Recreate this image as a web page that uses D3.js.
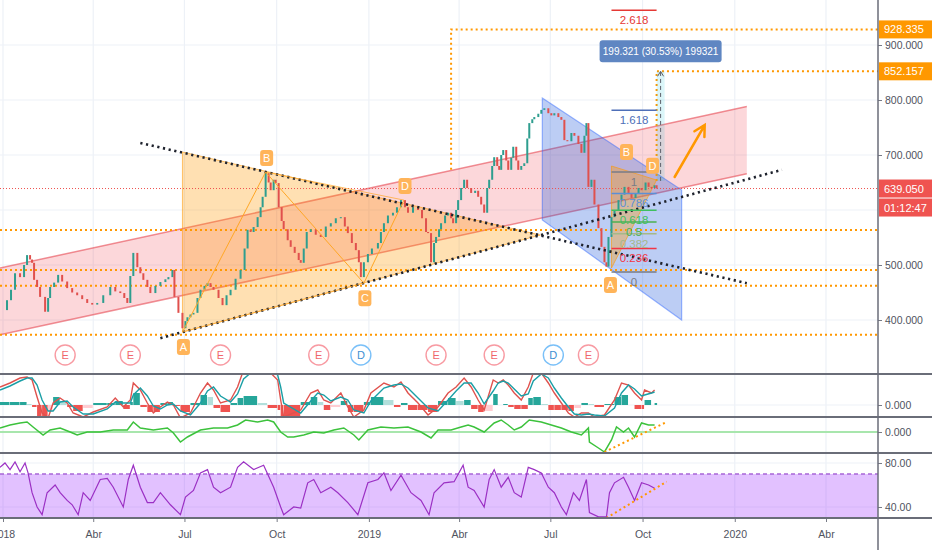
<!DOCTYPE html>
<html>
<head>
<meta charset="utf-8">
<script src="https://cdn.jsdelivr.net/npm/d3@7"></script>
<style>
  body { margin: 0; background: #fff; }
  svg { display: block; font-family: "Liberation Sans", Arial, sans-serif; }
</style>
</head>
<body>
<div id="chart"></div>
<script>
// ---- values (days counted from 2018-01-01) ----
const timeTickDates = ['2018-01-01', '2018-04-01', '2018-07-01', '2018-10-01', '2019-01-01',
  '2019-04-01', '2019-07-01', '2019-10-01', '2020-01-01', '2020-04-01'];
const timeTickLabels = ['2018', 'Abr', 'Jul', 'Oct', '2019', 'Abr', 'Jul', 'Oct', '2020', 'Abr'];
const priceTicks = [400, 500, 600, 700, 800, 900];
const priceTickLabels = [400, 500, 700, 800, 900]; // 600 sits under the countdown tag

const priceDays = [
  0, 4, 8, 12, 17, 21, 24, 27, 29, 31, 34, 37, 42, 45, 47, 51, 55, 59, 64, 69,
  74, 79, 84, 89, 94, 100, 107, 112, 117, 121, 124, 127, 130, 134, 137, 140, 144, 147, 152, 157,
  162, 165, 169, 171, 175, 179, 182, 184, 187, 190, 194, 197, 201, 204, 207, 210, 215, 219, 223, 227,
  232, 237, 241, 244, 247, 250, 254, 257, 259, 262, 265, 267, 270, 272, 275, 278, 280, 284, 287, 291,
  295, 297, 300, 303, 307, 312, 317, 322, 327, 332, 337, 341, 344, 348, 352, 355, 357, 360, 364, 368,
  374, 377, 380, 384, 389, 393, 397, 401, 404, 409, 414, 418, 422, 424, 427, 430, 432, 435, 437, 441,
  444, 447, 449, 452, 454, 457, 460, 463, 467, 471, 474, 477, 480, 483, 485, 488, 490, 493, 495, 497,
  499, 502, 504, 507, 509, 512, 514, 517, 520, 523, 525, 528, 530, 534, 537, 540, 544, 547, 550, 554,
  557, 560, 563, 567, 570, 574, 577, 580, 582, 584, 587, 590, 594, 597, 600, 602, 604, 607, 610, 614,
  617, 620, 624, 627, 631, 634, 637, 641, 644, 647, 650, 652
];
const priceClose = [
  418, 436, 455, 485, 478, 500, 518, 510, 504, 473, 460, 442, 415, 440, 460, 468, 482, 470, 458, 450,
  445, 438, 431, 428, 431, 445, 460, 452, 449, 440, 431, 480, 522, 496, 485, 473, 460, 449, 462, 469,
  474, 478, 491, 442, 413, 385, 398, 405, 410, 413, 440, 455, 462, 467, 460, 455, 440, 427, 445, 455,
  475, 491, 530, 564, 560, 569, 587, 605, 624, 667, 650, 636, 655, 649, 605, 580, 565, 545, 533, 522,
  509, 504, 530, 560, 565, 555, 551, 570, 576, 585, 587, 570, 558, 540, 527, 505, 478, 505, 520, 530,
  540, 560, 576, 590, 595, 605, 618, 605, 595, 605, 600, 585, 560, 558, 505, 540, 551, 565, 576, 590,
  595, 585, 576, 600, 618, 640, 655, 640, 631, 635, 624, 610, 595, 640, 655, 680, 696, 680, 673, 700,
  709, 690, 673, 695, 715, 690, 673, 680, 685, 730, 758, 765, 769, 775, 782, 785, 776, 772, 776, 769,
  764, 727, 725, 740, 735, 720, 704, 735, 758, 642, 655, 610, 567, 533, 505, 497, 551, 587, 600, 618,
  628, 642, 630, 622, 630, 640, 636, 650, 642, 640, 645, 639.05
];

const levelLines = [563.6, 491.0, 462.5, 373.0];
const rayLevels = [928.335, 852.157];
const rayStartDays = [447, 652];
const rayEndPrices = [673, 652.836];
const lastPrice = 639.05;
const countdown = '01:12:47';

const channelLower = [[-3, 373], [742, 666]];
const channelUpper = [[-3, 494.5], [742, 788]];
const triangleArea = [[179, 705.5], [179, 378], [536, 554.5]];
const trendDown = [[137, 722], [742, 467]];
const trendUp = [[157, 367], [777, 673]];
const blueChannel = [[538, 803.6], [677, 636.4], [677, 400], [538, 581.8]];

const patternNames = ['A', 'B', 'C', 'D'];
const patternBig = [[179, 378], [262, 669], [360, 467], [400, 618]];
const patternSmallNames = ['A', 'B', 'D'];
const patternSmall = [[604, 491], [620, 680], [646, 655]];
const smallArea = [[607, 680], [652, 654.5], [607, 494.5]];

const fibLevels = [0, 0.236, 0.382, 0.5, 0.618, 0.786, 1, 1.618, 2.618];
const fibLabels = ['0', '0.236', '0.382', '0.5', '0.618', '0.786', '1', '1.618', '2.618'];
const fibColors = ['#787b86', '#f23645', '#a5b88a', '#4caf50', '#3fbf5f', '#5b8fd6', '#787b86', '#4e6fb8', '#e53935'];
const fibLow = 487.3, fibHigh = 669.1;
const fibDays = [607, 652];

const measureDays = [652, 660];
const measurePrices = [652.836, 852.157];
const measureText = '199.321 (30.53%) 199321';

const arrowPath = [[670, 660], [700, 754.5]];

const eventDays = [62, 127, 217, 315, 357, 432, 490, 549, 584];
const eventTypes = ['E', 'E', 'E', 'E', 'D', 'E', 'E', 'D', 'E'];

const macdDays = [
  -3, 7, 17, 24, 29, 34, 39, 45, 50, 57, 64, 70, 80, 90, 104, 112, 120, 127, 130, 137,
  144, 150, 157, 164, 170, 177, 187, 197, 204, 210, 217, 227, 234, 240, 254, 264, 274, 277, 280, 297,
  307, 314, 320, 327, 337, 344, 350, 360, 367, 380, 390, 397, 404, 414, 424, 434, 444, 452, 460, 467,
  474, 480, 489, 494, 499, 504, 510, 517, 524, 529, 537, 544, 550, 557, 564, 570, 577, 584, 590, 600,
  610, 617, 624, 630, 637, 640, 647, 650
];
const macdLine = [
  18, 22, 27, 28, 25, 8, -8, -13, 2, 7, 2, -8, -12, -7, -2, 7, -2, 5, 22, 15,
  2, -8, -2, 3, 0, -13, -8, 12, 22, 15, 2, 5, 18, 35, 40, 35, 25, 5, -12, -5,
  12, 15, 5, 2, 12, -2, -12, -5, 12, 22, 18, 23, 12, 2, -10, -2, 12, 18, 27, 18,
  5, -5, 25, 22, 25, 20, 12, 5, 18, 32, 32, 22, 12, 2, -8, -12, -8, -8, -12, -10,
  5, 22, 20, 12, 5, 15, 12, 15
];
const signalLine = [
  15, 19, 24, 27, 27, 20, 5, -6, -6, 3, 4, -2, -9, -9, -4, 3, 2, 2, 10, 17,
  9, -1, -4, 0, 1, -6, -10, 2, 14, 18, 9, 3, 11, 26, 38, 38, 30, 18, 2, -8,
  4, 12, 10, 4, 8, 5, -5, -8, 4, 17, 20, 21, 17, 7, -3, -6, 5, 14, 22, 22,
  12, 1, 14, 22, 24, 22, 16, 9, 11, 24, 31, 27, 17, 7, -2, -9, -10, -9, -10, -11,
  -3, 12, 20, 16, 9, 10, 12, 13
];

const oscDays = [
  -3, 7, 17, 24, 30, 40, 47, 57, 67, 74, 84, 97, 110, 124, 130, 137, 150, 164, 170, 177,
  184, 197, 210, 224, 234, 242, 254, 264, 270, 277, 284, 290, 300, 310, 320, 330, 340, 350, 355, 364,
  377, 390, 404, 417, 427, 434, 447, 457, 464, 470, 480, 490, 497, 504, 510, 517, 525, 537, 547, 557,
  567, 577, 584, 585, 594, 600, 607, 612, 619, 624, 630, 637, 644, 650
];
const oscLine = [
  4, 7, 9, 10, 5, -3, 2, 4, 0, -3, 0, 0, 2, 2, 10, 4, 2, 4, -1, -10,
  -5, 2, 4, 4, 7, 12, 10, 12, 10, 0, -5, -5, -3, 0, -1, 2, 4, -3, -8, 2,
  5, 4, 5, 0, -6, 2, 2, 5, 7, 5, 0, 9, 12, 7, 2, 5, 12, 10, 7, 4,
  0, -3, 4, -10, -16, -20, -8, 5, 0, 4, -5, 9, 7, 7
];

const rsiDays = [
  -3, 2, 7, 12, 17, 22, 25, 29, 34, 39, 44, 52, 57, 64, 69, 75, 80, 87, 97, 104,
  110, 120, 125, 130, 137, 144, 150, 157, 167, 177, 182, 190, 197, 204, 210, 217, 227, 234, 240, 250,
  260, 270, 277, 280, 290, 297, 304, 310, 317, 327, 334, 344, 354, 364, 374, 380, 387, 397, 407, 417,
  425, 430, 440, 450, 459, 464, 470, 480, 485, 490, 497, 504, 510, 517, 524, 530, 537, 544, 550, 557,
  562, 569, 575, 582, 585, 594, 602, 605, 610, 619, 624, 630, 637, 644, 650
];
const rsiLine = [
  76, 80, 74, 81, 72, 80, 71, 53, 40, 33, 53, 60, 53, 46, 42, 33, 53, 46, 65, 66,
  58, 40, 65, 78, 58, 44, 44, 53, 42, 33, 49, 55, 71, 74, 58, 53, 58, 76, 81, 74,
  78, 58, 40, 33, 40, 39, 62, 65, 53, 58, 53, 44, 33, 62, 65, 71, 55, 69, 53, 46,
  33, 53, 62, 63, 78, 58, 55, 40, 65, 74, 58, 67, 53, 49, 76, 74, 71, 58, 53, 40,
  33, 53, 46, 65, 35, 31, 31, 53, 62, 67, 58, 46, 62, 60, 57
];
const oscTrend = [[600, -20], [662, 10]];
const rsiTrend = [[602, 30], [662, 63]];

// ---- layout ----
const W = 932, H = 550, plotR = 878;
const panels = { price: [0, 374], macd: [374, 417], osc: [417, 453], rsi: [453, 518] };

const parse = d3.timeParse('%Y-%m-%d');
const START = parse('2018-01-01');
const tickDates = timeTickDates.map(parse);
const x = d3.scaleTime().domain([START, parse('2020-04-01')]).range([3, 826]);
const xd = (d) => x(d3.timeDay.offset(START, d));

const yP = d3.scaleLinear().domain([400, 900]).range([320, 45]);
const yM = d3.scaleLinear().domain([-12, 31]).range([417, 374]);
const yO = d3.scaleLinear().domain([-21, 15]).range([453, 417]);
const yR = d3.scaleLinear().domain([30, 89.09]).range([518, 453]);

const svg = d3.select('#chart').append('svg').attr('width', W).attr('height', H);
const defs = svg.append('defs');
Object.entries(panels).forEach(([k, [t, b]]) => {
  defs.append('clipPath').attr('id', 'clip-' + k)
    .append('rect').attr('x', 0).attr('y', t).attr('width', plotR).attr('height', b - t);
});

// grid
const grid = svg.append('g');
grid.selectAll('line.v').data(tickDates).join('line')
  .attr('x1', (d) => x(d)).attr('x2', (d) => x(d)).attr('y1', 0).attr('y2', 518)
  .attr('stroke', '#edf1f7').attr('stroke-width', 1.2);
grid.selectAll('line.h').data(priceTicks).join('line')
  .attr('x1', 0).attr('x2', plotR).attr('y1', (d) => yP(d)).attr('y2', (d) => yP(d))
  .attr('stroke', '#edf1f7').attr('stroke-width', 1.2);
[[yM, 0], [yO, 0], [yR, 80], [yR, 40]].forEach(([s, v]) => {
  grid.append('line').attr('x1', 0).attr('x2', plotR).attr('y1', s(v)).attr('y2', s(v))
    .attr('stroke', '#edf1f7').attr('stroke-width', 1.2);
});

// ---- price panel ----
const gP = svg.append('g').attr('clip-path', 'url(#clip-price)');
const pt = (p) => [xd(p[0]), yP(p[1])];
const line = d3.line();

gP.append('path')
  .attr('d', line([pt(channelLower[0]), pt(channelLower[1]), pt(channelUpper[1]), pt(channelUpper[0])]) + 'Z')
  .attr('fill', 'rgba(242,54,69,0.2)');
[channelLower, channelUpper].forEach((c) => {
  gP.append('path').attr('d', line(c.map(pt))).attr('stroke', 'rgba(230,70,80,0.6)').attr('stroke-width', 1.5).attr('fill', 'none');
});

gP.append('path').attr('d', line(triangleArea.map(pt)) + 'Z')
  .attr('fill', 'rgba(255,152,0,0.3)').attr('stroke', 'rgba(255,152,0,0.55)').attr('stroke-width', 1);

gP.append('path').attr('d', line(blueChannel.map(pt)) + 'Z')
  .attr('fill', 'rgba(33,91,220,0.3)').attr('stroke', 'rgba(41,98,255,0.45)').attr('stroke-width', 1.2);

gP.append('path').attr('d', line(smallArea.map(pt)) + 'Z')
  .attr('fill', 'rgba(255,152,0,0.35)').attr('stroke', 'rgba(255,152,0,0.6)').attr('stroke-width', 1);

// horizontal levels
gP.selectAll('line.lvl').data(levelLines).join('line')
  .attr('x1', 0).attr('x2', plotR).attr('y1', (d) => yP(d)).attr('y2', (d) => yP(d))
  .attr('stroke', '#ff9800').attr('stroke-width', 2).attr('stroke-dasharray', '2,3');
rayLevels.forEach((v, i) => {
  gP.append('path')
    .attr('d', line([[xd(rayStartDays[i]), yP(rayEndPrices[i])], [xd(rayStartDays[i]), yP(v)], [plotR, yP(v)]]))
    .attr('fill', 'none').attr('stroke', '#ff9800').attr('stroke-width', 2).attr('stroke-dasharray', '2,3');
});
gP.append('line').attr('x1', 0).attr('x2', plotR).attr('y1', yP(lastPrice)).attr('y2', yP(lastPrice))
  .attr('stroke', '#ef5350').attr('stroke-width', 1).attr('stroke-dasharray', '1,2');

// candles: open = previous close
const candles = priceClose.slice(1).map((c, i) => ({ day: priceDays[i + 1], open: priceClose[i], close: c }));
gP.append('g').selectAll('rect').data(candles).join('rect')
  .attr('x', (d) => xd(d.day) - 1)
  .attr('y', (d) => yP(Math.max(d.open, d.close)))
  .attr('width', 2)
  .attr('height', (d) => Math.max(1, Math.abs(yP(d.open) - yP(d.close))))
  .attr('fill', (d) => (d.close >= d.open ? '#2e9e8f' : '#e0504d'));

// dotted trend lines
[trendDown, trendUp].forEach((t) => {
  gP.append('path').attr('d', line(t.map(pt))).attr('fill', 'none')
    .attr('stroke', '#1e222d').attr('stroke-width', 2.6).attr('stroke-dasharray', '2.2,3.6');
});

// ABCD pattern lines
gP.append('path').attr('d', line(patternBig.map(pt))).attr('fill', 'none')
  .attr('stroke', '#ffa726').attr('stroke-width', 1);
gP.append('path').attr('d', line([pt(patternBig[0]), pt(patternBig[2])])).attr('fill', 'none')
  .attr('stroke', '#ffa726').attr('stroke-width', 1).attr('opacity', 0.7);
gP.append('path').attr('d', line([pt(patternBig[1]), pt(patternBig[3])])).attr('fill', 'none')
  .attr('stroke', '#ffa726').attr('stroke-width', 1).attr('opacity', 0.7);

// fib levels
const fibPrice = (l) => fibLow + l * (fibHigh - fibLow);
const fibG = gP.append('g');
fibLevels.forEach((l, i) => {
  const yy = yP(fibPrice(l));
  fibG.append('line').attr('x1', xd(fibDays[0])).attr('x2', xd(fibDays[1])).attr('y1', yy).attr('y2', yy)
    .attr('stroke', fibColors[i]).attr('stroke-width', 1.5);
  fibG.append('text').attr('x', (xd(fibDays[0]) + xd(fibDays[1])) / 2).attr('y', yy + 14)
    .attr('text-anchor', 'middle').attr('font-size', 11.5).attr('fill', fibColors[i]).text(fibLabels[i]);
});

// measure tool
const mx0 = xd(measureDays[0]), mx1 = xd(measureDays[1]);
const myTop = yP(measurePrices[1]), myBot = yP(measurePrices[0]);
const mcx = (mx0 + mx1) / 2;
gP.append('rect').attr('x', mx0).attr('y', myTop).attr('width', mx1 - mx0).attr('height', myBot - myTop)
  .attr('fill', 'rgba(0,188,212,0.14)');
gP.append('line').attr('x1', mcx).attr('x2', mcx).attr('y1', myBot).attr('y2', myTop)
  .attr('stroke', '#5d606b').attr('stroke-width', 1).attr('stroke-dasharray', '4,3');
gP.append('path').attr('d', `M${mcx - 3},${myTop + 5}L${mcx},${myTop}L${mcx + 3},${myTop + 5}`)
  .attr('fill', 'none').attr('stroke', '#5d606b').attr('stroke-width', 1);
gP.append('rect').attr('x', mcx - 61).attr('y', myTop - 31).attr('width', 122).attr('height', 22).attr('rx', 3)
  .attr('fill', '#5f86c2');
gP.append('text').attr('x', mcx).attr('y', myTop - 16.5).attr('text-anchor', 'middle')
  .attr('font-size', 10).attr('fill', '#fff').text(measureText);

// orange arrow
const [a0, a1] = arrowPath.map(pt);
const ang = Math.atan2(a1[1] - a0[1], a1[0] - a0[0]);
const head = (da) => [a1[0] - 12 * Math.cos(ang + da), a1[1] - 12 * Math.sin(ang + da)];
gP.append('path').attr('d', line([a0, a1]) + 'M' + head(0.5).join(',') + 'L' + a1.join(',') + 'L' + head(-0.5).join(','))
  .attr('fill', 'none').attr('stroke', '#ff9800').attr('stroke-width', 2.5).attr('stroke-linecap', 'round');

// pattern letter tags
function letterTag(g, cx, cy, txt) {
  g.append('rect').attr('x', cx - 6.5).attr('y', cy - 8).attr('width', 13).attr('height', 16).attr('rx', 3)
    .attr('fill', '#ffb459');
  g.append('text').attr('x', cx).attr('y', cy + 4).attr('text-anchor', 'middle')
    .attr('font-size', 11).attr('fill', '#fff').text(txt);
}
const below = [true, false, true, false];
patternBig.forEach((p, i) => {
  const [px, py] = pt(p);
  letterTag(gP, px + 1, below[i] ? py + 15 : py - 14, patternNames[i]);
});
const belowSmall = [true, false, false];
patternSmall.forEach((p, i) => {
  const [px, py] = pt(p);
  letterTag(gP, px + 2, belowSmall[i] ? py + 15 : py - 14, patternSmallNames[i]);
});

// earnings / dividend markers
const evY = 355;
const evG = gP.append('g').selectAll('g').data(eventDays).join('g')
  .attr('transform', (d) => `translate(${xd(d)},${evY})`);
evG.append('circle').attr('r', 10).attr('fill', '#fff')
  .attr('stroke', (d, i) => (eventTypes[i] === 'E' ? 'rgba(242,54,69,0.5)' : 'rgba(33,150,243,0.6)'))
  .attr('stroke-width', 1.4);
evG.append('text').attr('y', 4).attr('text-anchor', 'middle').attr('font-size', 11)
  .attr('fill', (d, i) => (eventTypes[i] === 'E' ? '#f0676b' : '#3d8fd1'))
  .text((d, i) => eventTypes[i]);

// ---- MACD panel ----
const gM = svg.append('g').attr('clip-path', 'url(#clip-macd)');
const hist = macdLine.map((m, i) => ({ day: macdDays[i], next: macdDays[i + 1] ?? macdDays[i] + 3, h: m - signalLine[i], prev: i ? macdLine[i - 1] - signalLine[i - 1] : 0 }));
gM.selectAll('rect').data(hist).join('rect')
  .attr('x', (d) => xd(d.day))
  .attr('width', (d) => Math.max(1, xd(d.next) - xd(d.day) - 0.5))
  .attr('y', (d) => Math.min(yM(0), yM(d.h)))
  .attr('height', (d) => Math.abs(yM(d.h) - yM(0)))
  .attr('fill', (d) => (d.h >= 0 ? (d.h >= d.prev ? '#26a69a' : '#b2dfdb') : (d.h <= d.prev ? '#ef5350' : '#ffcdd2')));
const lineM = (vals) => d3.line().x((d, i) => xd(macdDays[i])).y((d) => yM(d))(vals);
gM.append('path').attr('d', lineM(macdLine)).attr('fill', 'none').attr('stroke', '#e0524e').attr('stroke-width', 1.4);
gM.append('path').attr('d', lineM(signalLine)).attr('fill', 'none').attr('stroke', '#1a9fa6').attr('stroke-width', 1.4);

// ---- oscillator panel ----
const gO = svg.append('g').attr('clip-path', 'url(#clip-osc)');
gO.append('line').attr('x1', 0).attr('x2', plotR).attr('y1', yO(0)).attr('y2', yO(0))
  .attr('stroke', '#a8e6ad').attr('stroke-width', 2);
gO.append('path').attr('d', d3.line().x((d, i) => xd(oscDays[i])).y((d) => yO(d))(oscLine))
  .attr('fill', 'none').attr('stroke', '#3cc23c').attr('stroke-width', 1.5);
gO.append('path').attr('d', line(oscTrend.map((p) => [xd(p[0]), yO(p[1])])))
  .attr('fill', 'none').attr('stroke', '#ff9800').attr('stroke-width', 2).attr('stroke-dasharray', '2,3');

// ---- RSI panel ----
const gR = svg.append('g').attr('clip-path', 'url(#clip-rsi)');
gR.append('rect').attr('x', 0).attr('width', plotR).attr('y', yR(70)).attr('height', yR(30) - yR(70))
  .attr('fill', 'rgba(160,50,255,0.3)');
[70, 30].forEach((v) => {
  gR.append('line').attr('x1', 0).attr('x2', plotR).attr('y1', yR(v)).attr('y2', yR(v))
    .attr('stroke', '#a866d8').attr('stroke-width', 1.5).attr('stroke-dasharray', '4,3');
});
gR.append('path').attr('d', d3.line().x((d, i) => xd(rsiDays[i])).y((d) => yR(d))(rsiLine))
  .attr('fill', 'none').attr('stroke', '#9b30c4').attr('stroke-width', 1.2);
gR.append('path').attr('d', line(rsiTrend.map((p) => [xd(p[0]), yR(p[1])])))
  .attr('fill', 'none').attr('stroke', '#ff9800').attr('stroke-width', 2).attr('stroke-dasharray', '2,3');

// ---- axes ----
function styleAxis(g) {
  g.select('.domain').remove();
  g.selectAll('line').attr('stroke', '#787b86');
  g.selectAll('text').attr('fill', '#50535e').attr('font-size', 10.5).attr('font-family', '"Liberation Sans", Arial, sans-serif');
}
svg.append('g').attr('transform', `translate(0,${panels.rsi[1]})`)
  .call(d3.axisBottom(x).tickValues(tickDates).tickSize(4).tickPadding(9).tickFormat((d, i) => timeTickLabels[i]))
  .call(styleAxis);
svg.append('g').attr('transform', `translate(${plotR},0)`)
  .call(d3.axisRight(yP).tickValues(priceTickLabels).tickSize(4).tickFormat(d3.format('.3f'))).call(styleAxis);
svg.append('g').attr('transform', `translate(${plotR},0)`)
  .call(d3.axisRight(yM).tickValues([0]).tickSize(4).tickFormat(d3.format('.3f'))).call(styleAxis);
svg.append('g').attr('transform', `translate(${plotR},0)`)
  .call(d3.axisRight(yO).tickValues([0]).tickSize(4).tickFormat(d3.format('.3f'))).call(styleAxis);
svg.append('g').attr('transform', `translate(${plotR},0)`)
  .call(d3.axisRight(yR).tickValues([80, 40]).tickSize(4).tickFormat(d3.format('.2f'))).call(styleAxis);

// panel separators and right border
[panels.price[1], panels.macd[1], panels.osc[1], panels.rsi[1]].forEach((yy) => {
  svg.append('line').attr('x1', 0).attr('x2', W).attr('y1', yy).attr('y2', yy)
    .attr('stroke', '#6a6d78').attr('stroke-width', 2);
});
svg.append('line').attr('x1', plotR).attr('x2', plotR).attr('y1', 0).attr('y2', H)
  .attr('stroke', '#6a6d78').attr('stroke-width', 1.5);

// price tags on the right axis
function axisTag(cy, txt, fill) {
  svg.append('rect').attr('x', plotR + 1).attr('y', cy - 9).attr('width', W - plotR - 1).attr('height', 18).attr('fill', fill);
  svg.append('text').attr('x', plotR + 6).attr('y', cy + 4).attr('font-size', 11).attr('fill', '#fff').text(txt);
}
axisTag(yP(rayLevels[0]), d3.format('.3f')(rayLevels[0]), '#ff9800');
axisTag(yP(rayLevels[1]), d3.format('.3f')(rayLevels[1]), '#ff9800');
axisTag(yP(lastPrice), d3.format('.3f')(lastPrice), '#ef5350');
axisTag(yP(lastPrice) + 19, countdown, '#ef5350');
</script>
</body>
</html>
